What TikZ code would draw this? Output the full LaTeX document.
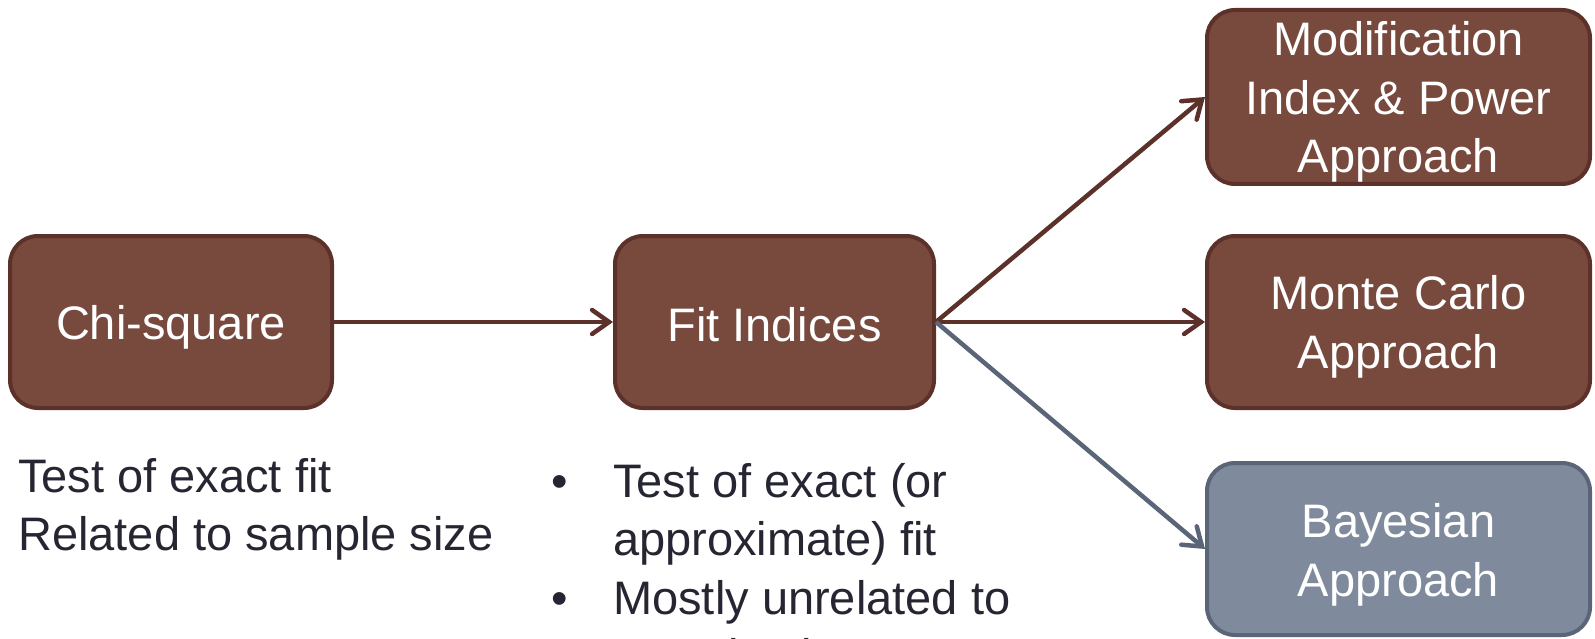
\documentclass[tikz,border=0pt]{standalone}
\usepackage{fontspec}
\setmainfont{Liberation Sans}
\usetikzlibrary{arrows.meta}
\definecolor{boxbrown}{HTML}{784A3E}
\definecolor{edgebrown}{HTML}{5C3129}
\definecolor{boxgray}{HTML}{7F8B9D}
\definecolor{edgegray}{HTML}{5A6577}
\definecolor{txtdark}{HTML}{262632}
\tikzset{
  stagebox/.style={draw=edgebrown, fill=boxbrown, line width=4pt, rounded corners=28pt,
    inner sep=0pt},
  graybox/.style={stagebox, draw=edgegray, fill=boxgray},
  boxtext/.style={text=white, align=center, inner sep=0pt,
    font=\fontsize{47}{58.5}\selectfont},
  conn/.style={draw=edgebrown, line width=4.5pt,
    -{Straight Barb[length=17pt,width=24pt,line cap=round]}},
  grayconn/.style={conn, draw=edgegray},
  note/.style={text=txtdark, align=left, inner sep=0pt, anchor=north west,
    font=\fontsize{47}{58.5}\selectfont}
}
\begin{document}
\begin{tikzpicture}[x=1pt,y=-1pt]
\useasboundingbox (0,0) rectangle (1595,639);
\clip (0,0) rectangle (1595,639);
\node[stagebox, minimum width=322pt, minimum height=172pt] (chi) at (171,322) {};
\node[stagebox, minimum width=319pt, minimum height=172pt] (fit) at (774.5,322) {};
\node[stagebox, minimum width=383pt, minimum height=174pt] (mod) at (1398.5,97) {};
\node[stagebox, minimum width=383pt, minimum height=172pt] (mc) at (1398.5,322) {};
\node[graybox, minimum width=383pt, minimum height=172pt] (bay) at (1398.5,549) {};
\node[boxtext] (chit) at ([yshift=-5pt]chi.center) {Chi-square};
\node[boxtext] (fitt) at ([yshift=-3pt]fit.center) {Fit Indices};
\node[boxtext] (modt) at ([yshift=-5pt]mod.center) {Modification\\Index \& Power\\Approach};
\node[boxtext] (mct) at ([yshift=-5pt]mc.center) {Monte Carlo\\Approach};
\node[boxtext] (bayt) at ([yshift=-6pt]bay.center) {Bayesian\\Approach};
\draw[conn] (chi.east) -- (fit.west);
\draw[conn] (fit.east) -- (mod.west);
\draw[conn] (fit.east) -- (mc.west);
\draw[grayconn] (fit.east) -- (bay.west);
\node[note] (chinote) at (18,458) {Test of exact fit\\Related to sample size};
\node[note] (fitnote) at (551,456) {\begin{tabular}{@{}p{62pt}@{}l@{}}
\textbullet & Test of exact (or\\
 & approximate) fit\\
\textbullet & Mostly unrelated to\\
 & sample size
\end{tabular}};
\end{tikzpicture}
\end{document}
